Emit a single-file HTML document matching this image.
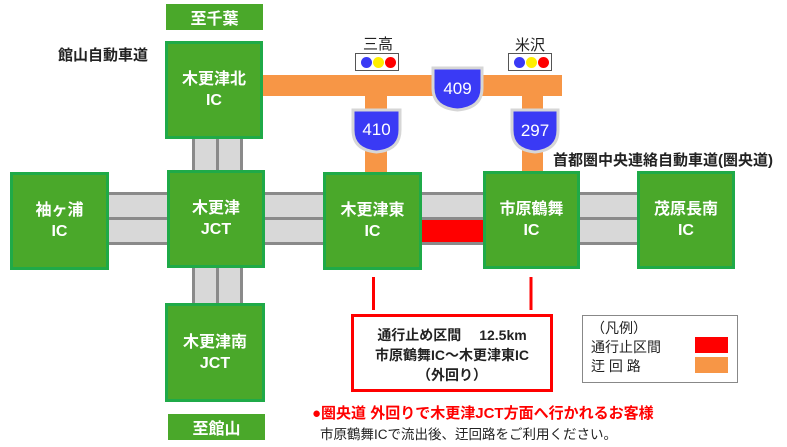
<!DOCTYPE html>
<html><head><meta charset="utf-8"><style>
body{margin:0;width:787px;height:447px;background:#fff;position:relative;overflow:hidden;font-family:"Liberation Sans","Noto Sans CJK JP",sans-serif;}
.a{position:absolute;box-sizing:border-box;}
.box{position:absolute;box-sizing:border-box;background:#4aa82a;border:3px solid #1faa48;color:#fff;font-weight:bold;font-size:16px;line-height:21px;display:flex;align-items:center;justify-content:center;text-align:center;}
.lab{position:absolute;background:#4aa82a;color:#fff;font-weight:bold;font-size:16px;display:flex;align-items:center;justify-content:center;}
.road{position:absolute;background:#d8d8d8;}
.gl{position:absolute;background:#8a8a8a;}
.or{position:absolute;background:#f79646;}
.t{position:absolute;white-space:nowrap;font-weight:bold;color:#222;}
.sig{position:absolute;border:1px solid #555;background:#fff;width:44px;height:18px;box-sizing:border-box;}
.sig i{position:absolute;top:3px;width:11px;height:11px;border-radius:50%;}
</style></head><body>
<div class="road" style="left:193px;top:138px;width:49px;height:167px"></div>
<div class="gl" style="left:192px;top:138px;width:3px;height:167px"></div>
<div class="gl" style="left:216px;top:138px;width:3px;height:167px"></div>
<div class="gl" style="left:240px;top:138px;width:3px;height:167px"></div>
<div class="road" style="left:109px;top:193px;width:528px;height:51px"></div>
<div class="gl" style="left:109px;top:192px;width:528px;height:3px"></div>
<div class="gl" style="left:109px;top:217px;width:528px;height:3px"></div>
<div class="gl" style="left:109px;top:242px;width:528px;height:3px"></div>
<div class="a" style="left:422px;top:220px;width:62px;height:22px;background:#ff0000"></div>
<div class="or" style="left:263px;top:75px;width:299px;height:21px"></div>
<div class="or" style="left:365px;top:90px;width:22px;height:83px"></div>
<div class="or" style="left:522px;top:90px;width:21px;height:83px"></div>
<svg class="a" style="left:0;top:0" width="787" height="447">
<g font-family="Liberation Sans,sans-serif" font-size="17" fill="#fff" text-anchor="middle">
<path d="M353,110 H400 V130 Q400,150 376.5,152 Q353,150 353,130 Z" fill="#3a3af5" stroke="#d6d6d6" stroke-width="3"/>
<text x="376.5" y="135">410</text>
<path d="M433,68 H482 V88 Q482,108 457.5,110 Q433,108 433,88 Z" fill="#3a3af5" stroke="#d6d6d6" stroke-width="3"/>
<text x="457.5" y="94">409</text>
<path d="M512,110 H558 V130 Q558,150 535,152 Q512,150 512,130 Z" fill="#3a3af5" stroke="#d6d6d6" stroke-width="3"/>
<text x="535" y="136">297</text>
</g>
<line x1="373.5" y1="277" x2="373.5" y2="310" stroke="#f00" stroke-width="3"/>
<line x1="531" y1="277" x2="531" y2="310" stroke="#f00" stroke-width="3"/>
</svg>
<div class="lab" style="left:166px;top:4px;width:97px;height:26px">至千葉</div>
<div class="box" style="left:165px;top:41px;width:98px;height:98px">木更津北<br>IC</div>
<div class="box" style="left:10px;top:172px;width:99px;height:98px">袖ヶ浦<br>IC</div>
<div class="box" style="left:167px;top:170px;width:98px;height:98px">木更津<br>JCT</div>
<div class="box" style="left:323px;top:172px;width:99px;height:98px">木更津東<br>IC</div>
<div class="box" style="left:483px;top:171px;width:97px;height:98px">市原鶴舞<br>IC</div>
<div class="box" style="left:637px;top:171px;width:98px;height:98px">茂原長南<br>IC</div>
<div class="box" style="left:165px;top:303px;width:100px;height:99px">木更津南<br>JCT</div>
<div class="lab" style="left:168px;top:414px;width:97px;height:26px">至館山</div>
<div class="t" style="left:363px;top:33px;font-size:15px;font-weight:normal">三高</div>
<div class="sig" style="left:355px;top:53px"><i style="left:5px;background:#3a3af5"></i><i style="left:17px;background:#ffee00"></i><i style="left:29px;background:#f00"></i></div>
<div class="t" style="left:515px;top:34px;font-size:15px;font-weight:normal">米沢</div>
<div class="sig" style="left:508px;top:53px"><i style="left:5px;background:#3a3af5"></i><i style="left:17px;background:#ffee00"></i><i style="left:29px;background:#f00"></i></div>
<div class="t" style="left:58px;top:44px;font-size:15px">館山自動車道</div>
<div class="t" style="left:553px;top:149px;font-size:15px">首都圏中央連絡自動車道(圏央道)</div>
<div class="a" style="left:351px;top:314px;width:202px;height:78px;border:3px solid #f00;font-size:14px;font-weight:bold;color:#222;text-align:center;line-height:20px;padding-top:8px">通行止め区間　 12.5km<br>市原鶴舞IC～木更津東IC<br>（外回り）</div>
<div class="a" style="left:582px;top:315px;width:156px;height:68px;border:1px solid #888;font-size:14px;color:#222;line-height:19px;padding:3px 0 0 8px">（凡例）<br>通行止区間<br>迂 回 路</div>
<div class="a" style="left:695px;top:337px;width:33px;height:16px;background:#f00"></div>
<div class="a" style="left:695px;top:357px;width:33px;height:16px;background:#f79646"></div>
<div class="t" style="left:312px;top:402px;font-size:15px;color:#f00">●圏央道 外回りで木更津JCT方面へ行かれるお客様</div>
<div class="t" style="left:320px;top:423px;font-size:13.5px;font-weight:normal;color:#222">市原鶴舞ICで流出後、迂回路をご利用ください。</div>
</body></html>
